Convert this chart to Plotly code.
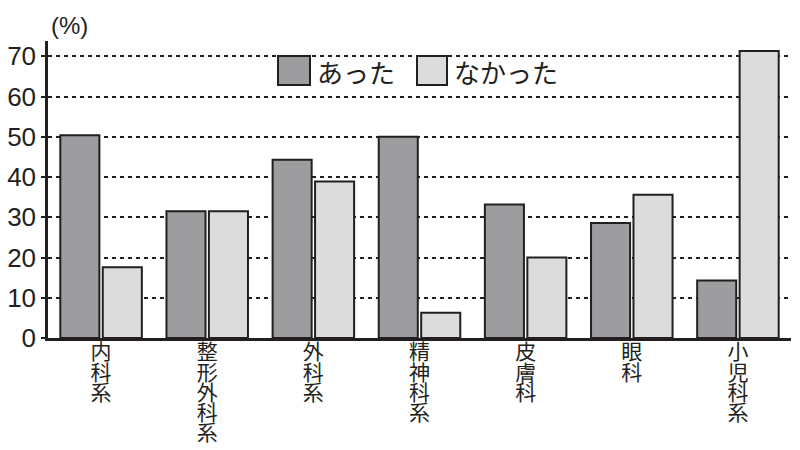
import plotly.graph_objects as go

categories = ["内科系", "整形外科系", "外科系", "精神科系", "皮膚科", "眼科", "小児科系"]
series_names = ["あった", "なかった"]
values_atta = [50.4, 31.5, 44.3, 50.0, 33.2, 28.6, 14.3]
values_nakatta = [17.6, 31.5, 38.9, 6.3, 20.0, 35.6, 71.3]
y_ticks = [0, 10, 20, 30, 40, 50, 60, 70]

INK = "#231f20"
COL_A = "#9d9d9f"
COL_B = "#dcdcdc"
CJK = "Noto Sans CJK JP"
NUM = "Liberation Sans, Arial, sans-serif"

# vertical category labels (one character per line)
tick_text = ["<br>".join(f'<span style="font-size:21px">{ch}</span>' for ch in c) for c in categories]

fig = go.Figure()
fig.add_trace(go.Bar(x=categories, y=values_atta, name=series_names[0],
                     marker=dict(color=COL_A, line=dict(color=INK, width=2)), showlegend=False))
fig.add_trace(go.Bar(x=categories, y=values_nakatta, name=series_names[1],
                     marker=dict(color=COL_B, line=dict(color=INK, width=2)), showlegend=False))

W, H = 800, 450
ML, MR, MT, MB = 48, 9, 41, 112
PW, PH = W - ML - MR, H - MT - MB

def px_x(px):
    return (px - ML) / PW

def px_y(py):
    return (H - MB - py) / PH

shapes = []
annotations = []
legend_items = [(278, 310, 315, series_names[0], COL_A), (417, 447, 452, series_names[1], COL_B)]
for x0, x1, tx, name, col in legend_items:
    shapes.append(dict(type="rect", xref="paper", yref="paper",
                       x0=px_x(x0), x1=px_x(x1), y0=px_y(85), y1=px_y(56),
                       fillcolor=col, line=dict(color=INK, width=2)))
    annotations.append(dict(xref="paper", yref="paper", x=px_x(tx), y=px_y(71),
                            xanchor="left", yanchor="middle", showarrow=False,
                            text=name, font=dict(family=CJK, size=26, color=INK)))

annotations.append(dict(xref="paper", yref="paper", x=px_x(69), y=px_y(26),
                        xanchor="center", yanchor="middle", showarrow=False,
                        text="(%)", font=dict(family=NUM, size=24, color=INK)))

fig.update_layout(
    width=W, height=H,
    margin=dict(l=ML, r=MR, t=MT, b=MB, pad=0),
    paper_bgcolor="white", plot_bgcolor="white",
    barmode="group", bargap=0.2, bargroupgap=0.08,
    shapes=shapes, annotations=annotations,
    xaxis=dict(tickmode="array", tickvals=categories, ticktext=tick_text,
               tickfont=dict(family=CJK, size=15.5, color=INK),
               showline=True, linecolor=INK, linewidth=2.5, ticks="",
               showgrid=False, zeroline=False, tickangle=0, automargin=False),
    yaxis=dict(range=[0, 73.8], tickvals=y_ticks, ticktext=[str(v) for v in y_ticks],
               tickfont=dict(family=NUM, size=26, color=INK),
               showline=True, linecolor=INK, linewidth=2.5,
               ticks="outside", ticklen=4, tickwidth=2, tickcolor=INK,
               showgrid=True, gridcolor=INK, gridwidth=2, griddash="3.5px,4.5px",
               zeroline=False, automargin=False),
)

fig.write_html("out.html")
